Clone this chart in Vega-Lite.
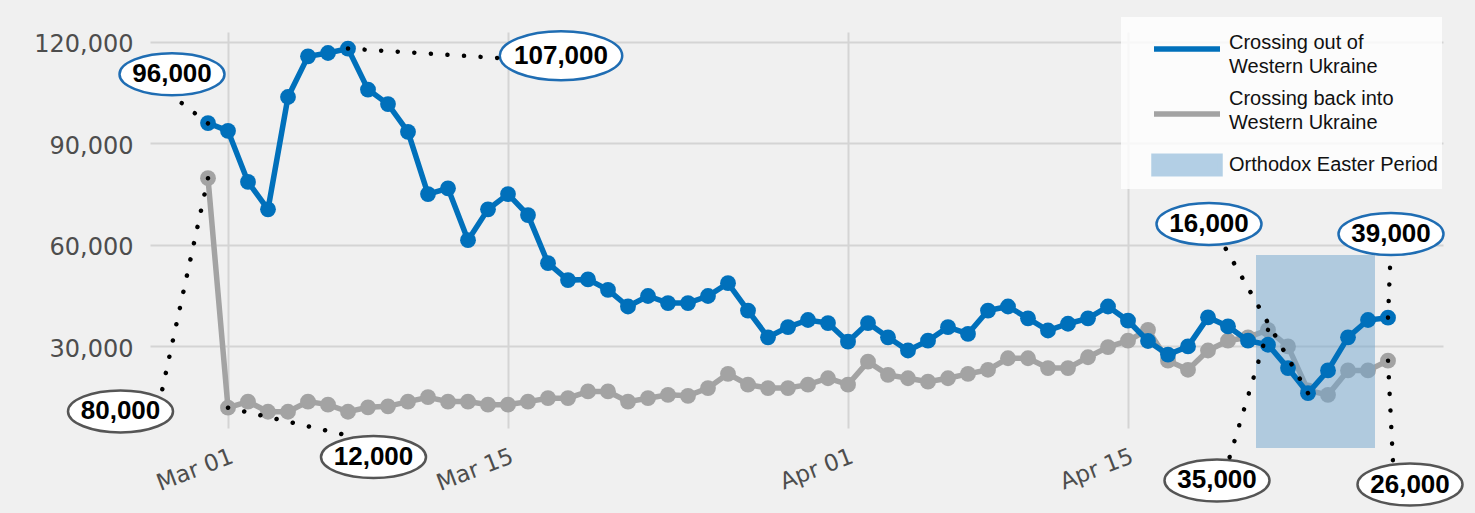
{
  "$schema": "https://vega.github.io/schema/vega-lite/v6.json",
  "width": 1293,
  "height": 396,
  "autosize": {"type": "none"},
  "padding": {"left": 150, "top": 32, "right": 32, "bottom": 85},
  "background": "#f0f0f0",
  "config": {
    "view": {"stroke": null},
    "axis": {
      "domain": false,
      "ticks": false,
      "title": null,
      "grid": true,
      "gridColor": "#d4d4d4",
      "gridWidth": 2,
      "labelFont": "DejaVu Sans",
      "labelColor": "#4d4d4d"
    }
  },
  "datasets": {
    "series": [
      {"date": "2022-02-28", "out": 96000, "back": 79700},
      {"date": "2022-03-01", "out": 93700, "back": 11900},
      {"date": "2022-03-02", "out": 78600, "back": 13700},
      {"date": "2022-03-03", "out": 70500, "back": 10700},
      {"date": "2022-03-04", "out": 103700, "back": 10700},
      {"date": "2022-03-05", "out": 115700, "back": 13700},
      {"date": "2022-03-06", "out": 116700, "back": 12800},
      {"date": "2022-03-07", "out": 118000, "back": 10700},
      {"date": "2022-03-08", "out": 105900, "back": 12000},
      {"date": "2022-03-09", "out": 101600, "back": 12300},
      {"date": "2022-03-10", "out": 93400, "back": 13700},
      {"date": "2022-03-11", "out": 75000, "back": 15000},
      {"date": "2022-03-12", "out": 76700, "back": 13700},
      {"date": "2022-03-13", "out": 61400, "back": 13700},
      {"date": "2022-03-14", "out": 70500, "back": 12800},
      {"date": "2022-03-15", "out": 75000, "back": 12800},
      {"date": "2022-03-16", "out": 68800, "back": 13700},
      {"date": "2022-03-17", "out": 54600, "back": 14700},
      {"date": "2022-03-18", "out": 49600, "back": 14700},
      {"date": "2022-03-19", "out": 49800, "back": 16700},
      {"date": "2022-03-20", "out": 46700, "back": 16700},
      {"date": "2022-03-21", "out": 41800, "back": 13700},
      {"date": "2022-03-22", "out": 44900, "back": 14700},
      {"date": "2022-03-23", "out": 42800, "back": 15700},
      {"date": "2022-03-24", "out": 42800, "back": 15400},
      {"date": "2022-03-25", "out": 44900, "back": 17700},
      {"date": "2022-03-26", "out": 48700, "back": 21900},
      {"date": "2022-03-27", "out": 40600, "back": 18700},
      {"date": "2022-03-28", "out": 32700, "back": 17700},
      {"date": "2022-03-29", "out": 35700, "back": 17700},
      {"date": "2022-03-30", "out": 37800, "back": 18700},
      {"date": "2022-03-31", "out": 36900, "back": 20600},
      {"date": "2022-04-01", "out": 31400, "back": 18700},
      {"date": "2022-04-02", "out": 36900, "back": 25500},
      {"date": "2022-04-03", "out": 32700, "back": 21600},
      {"date": "2022-04-04", "out": 28800, "back": 20600},
      {"date": "2022-04-05", "out": 31700, "back": 19600},
      {"date": "2022-04-06", "out": 35700, "back": 20600},
      {"date": "2022-04-07", "out": 33700, "back": 21900},
      {"date": "2022-04-08", "out": 40600, "back": 23100},
      {"date": "2022-04-09", "out": 41800, "back": 26500},
      {"date": "2022-04-10", "out": 38300, "back": 26500},
      {"date": "2022-04-11", "out": 34700, "back": 23600},
      {"date": "2022-04-12", "out": 36700, "back": 23600},
      {"date": "2022-04-13", "out": 38300, "back": 26800},
      {"date": "2022-04-14", "out": 41800, "back": 29800},
      {"date": "2022-04-15", "out": 37600, "back": 31700},
      {"date": "2022-04-16", "out": 31600, "back": 34900},
      {"date": "2022-04-17", "out": 27600, "back": 25800},
      {"date": "2022-04-18", "out": 30000, "back": 23100},
      {"date": "2022-04-19", "out": 38600, "back": 28800},
      {"date": "2022-04-20", "out": 35900, "back": 31700},
      {"date": "2022-04-21", "out": 31700, "back": 32700},
      {"date": "2022-04-22", "out": 30500, "back": 34900},
      {"date": "2022-04-23", "out": 23600, "back": 30000},
      {"date": "2022-04-24", "out": 16200, "back": 17000},
      {"date": "2022-04-25", "out": 22900, "back": 15700},
      {"date": "2022-04-26", "out": 32700, "back": 22900},
      {"date": "2022-04-27", "out": 37800, "back": 22900},
      {"date": "2022-04-28", "out": 38500, "back": 25800}
    ],
    "easter": [
      {"date": "2022-04-21T09:36:00Z", "date2": "2022-04-27T08:24:00Z", "value": 0, "value2": 57000, "series": "Orthodox Easter Period"}
    ],
    "annot": [
      {"date": "2022-02-26T04:48:00Z", "value": 110400, "label": "96,000", "series": "out"},
      {"date": "2022-03-17T15:36:00Z", "value": 115900, "label": "107,000", "series": "out"},
      {"date": "2022-02-23T15:00:00Z", "value": 10800, "label": "80,000", "series": "back"},
      {"date": "2022-03-08T06:36:00Z", "value": -2700, "label": "12,000", "series": "back"},
      {"date": "2022-04-19T01:12:00Z", "value": 66200, "label": "16,000", "series": "out"},
      {"date": "2022-04-28T03:36:00Z", "value": 63200, "label": "39,000", "series": "out"},
      {"date": "2022-04-19T10:48:00Z", "value": -9600, "label": "35,000", "series": "back"},
      {"date": "2022-04-29T02:24:00Z", "value": -10800, "label": "26,000", "series": "back"}
    ],
    "leaders": [
      {"date": "2022-02-28", "value": 95900, "date2": "2022-02-26T06:00:00Z", "value2": 103900},
      {"date": "2022-03-07", "value": 118000, "date2": "2022-03-14T20:24:00Z", "value2": 115100},
      {"date": "2022-02-28", "value": 79700, "date2": "2022-02-25T14:24:00Z", "value2": 14200},
      {"date": "2022-03-01", "value": 11900, "date2": "2022-03-07T08:24:00Z", "value2": 3200},
      {"date": "2022-04-24", "value": 16200, "date2": "2022-04-19T18:00:00Z", "value2": 60300},
      {"date": "2022-04-28", "value": 38500, "date2": "2022-04-28T03:00:00Z", "value2": 56700},
      {"date": "2022-04-22", "value": 34900, "date2": "2022-04-20T00:00:00Z", "value2": -4300},
      {"date": "2022-04-28", "value": 25800, "date2": "2022-04-28T06:00:00Z", "value2": -4300}
    ]
  },
  "encoding": {
    "x": {
      "field": "date",
      "type": "temporal",
      "scale": {
        "type": "utc",
        "domain": [
          {"year": 2022, "month": 2, "date": 25, "hours": 2, "minutes": 24, "utc": true},
          {"year": 2022, "month": 4, "date": 30, "hours": 18, "utc": true}
        ]
      },
      "axis": {
        "values": [
          {"year": 2022, "month": 3, "date": 1, "utc": true},
          {"year": 2022, "month": 3, "date": 15, "utc": true},
          {"year": 2022, "month": 4, "date": 1, "utc": true},
          {"year": 2022, "month": 4, "date": 15, "utc": true}
        ],
        "format": "%b %d",
        "labelAngle": -21,
        "labelAlign": "right",
        "labelBaseline": "top",
        "labelFontSize": 23,
        "labelPadding": 17
      }
    },
    "y": {
      "field": "value",
      "type": "quantitative",
      "scale": {"domain": [5900, 122900], "nice": false, "zero": false},
      "axis": {
        "values": [30000, 60000, 90000, 120000],
        "format": ",d",
        "labelFontSize": 24,
        "labelPadding": 17,
        "labelOffset": 3
      }
    }
  },
  "layer": [
    {
      "data": {"name": "series"},
      "transform": [
        {"calculate": "datum.back", "as": "value"},
        {"calculate": "'Crossing back into|Western Ukraine'", "as": "series"}
      ],
      "mark": {"type": "line", "strokeWidth": 5.5, "point": {"filled": true, "size": 250, "opacity": 1}},
      "encoding": {
        "color": {
          "field": "series",
          "type": "nominal",
          "scale": {
            "domain": ["Crossing out of|Western Ukraine", "Crossing back into|Western Ukraine", "Orthodox Easter Period"],
            "range": ["#0070bb", "#a3a3a3", "#b3cfe5"]
          },
          "legend": {
            "title": " ",
            "titleFontSize": 10,
            "titlePadding": 4,
            "orient": "none",
            "legendX": 971,
            "legendY": -15,
            "padding": 4,
            "fillColor": "rgba(255,255,255,0.8)",
            "strokeColor": null,
            "symbolSize": 484,
            "symbolOffset": 48,
            "labelOffset": 28,
            "labelFont": "Liberation Sans",
            "labelFontSize": 20,
            "labelColor": "#111111",
            "labelLimit": 400,
            "rowPadding": 12,
            "labelExpr": "split(datum.label, '|')",
            "encode": {
              "symbols": {
                "update": {
                  "shape": {"signal": "datum.value === 'Orthodox Easter Period' ? 'M-3,-0.8H3V0.8H-3Z' : 'M-3,0H3'"},
                  "fill": {"signal": "datum.value === 'Orthodox Easter Period' ? '#b3cfe5' : 'transparent'"},
                  "stroke": {"signal": "datum.value === 'Orthodox Easter Period' ? 'transparent' : (datum.value === 'Crossing out of|Western Ukraine' ? '#0070bb' : '#a3a3a3')"},
                  "strokeWidth": {"value": 5.5},
                  "opacity": {"value": 1},
                  "size": {"value": 484}
                }
              },
              "labels": {
                "update": {
                  "lineHeight": {"value": 24},
                  "dy": {"signal": "datum.value === 'Crossing out of|Western Ukraine' ? -6 : (datum.value === 'Crossing back into|Western Ukraine' ? -15 : 0)"}
                }
              }
            }
          }
        }
      }
    },
    {
      "data": {"name": "easter"},
      "mark": {"type": "rect", "opacity": 0.5, "color": "#6fa3cc"},
      "encoding": {
        "x2": {"field": "date2"},
        "y2": {"field": "value2"},
        "color": {"field": "series", "type": "nominal"},
        "fill": {"value": "#6fa3cc"}
      }
    },
    {
      "data": {"name": "series"},
      "transform": [
        {"calculate": "datum.out", "as": "value"},
        {"calculate": "'Crossing out of|Western Ukraine'", "as": "series"}
      ],
      "mark": {"type": "line", "strokeWidth": 5.5, "point": {"filled": true, "size": 250, "opacity": 1}},
      "encoding": {
        "color": {"field": "series", "type": "nominal"}
      }
    },
    {
      "data": {"name": "annot"},
      "mark": {"type": "point", "filled": false, "fill": "white", "fillOpacity": 1, "strokeWidth": 2.5, "opacity": 1, "shape": "M-2.5,0A2.5,1,0,1,1,2.5,0A2.5,1,0,1,1,-2.5,0Z"},
      "encoding": {
        "size": {"condition": {"test": "datum.label === '107,000'", "value": 2400}, "value": 1764},
        "stroke": {"condition": {"test": "datum.series === 'out'", "value": "#1f6db3"}, "value": "#555555"}
      }
    },
    {
      "data": {"name": "annot"},
      "mark": {"type": "text", "font": "Liberation Sans", "fontWeight": "bold", "fontSize": 26, "color": "black", "align": "center", "baseline": "middle"},
      "encoding": {
        "text": {"field": "label"}
      }
    },
    {
      "data": {"name": "leaders"},
      "mark": {"type": "rule", "color": "black", "strokeWidth": 4.5, "strokeCap": "round", "strokeDash": [0.1, 16.5]},
      "encoding": {
        "x2": {"field": "date2"},
        "y2": {"field": "value2"}
      }
    }
  ]
}
